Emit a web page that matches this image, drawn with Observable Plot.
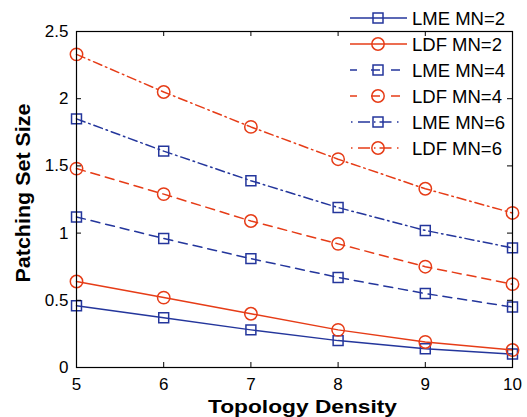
<!DOCTYPE html>
<html>
<head>
<meta charset="utf-8">
<script src="https://cdn.jsdelivr.net/npm/d3@7"></script>
<script src="https://cdn.jsdelivr.net/npm/@observablehq/plot@0.6"></script>
<style>
  html, body { margin: 0; padding: 0; background: #fff; }
  svg { font-family: "Liberation Sans", Arial, sans-serif; }
</style>
</head>
<body>
<div id="chart"></div>
<script>
const density = [5, 6, 7, 8, 9, 10];
const lme2 = [0.46, 0.37, 0.28, 0.20, 0.14, 0.10];
const ldf2 = [0.64, 0.52, 0.40, 0.28, 0.19, 0.13];
const lme4 = [1.12, 0.96, 0.81, 0.67, 0.55, 0.45];
const ldf4 = [1.48, 1.29, 1.09, 0.92, 0.75, 0.62];
const lme6 = [1.85, 1.61, 1.39, 1.19, 1.02, 0.89];
const ldf6 = [2.33, 2.05, 1.79, 1.55, 1.33, 1.15];
const xTicks = [5, 6, 7, 8, 9, 10];
const yTicks = [0, 0.5, 1, 1.5, 2, 2.5];
const yTickLabels = ["0", "0.5", "1", "1.5", "2", "2.5"];
const xLabel = "Topology Density";
const yLabel = "Patching Set Size";

const BLUE = "#24369c";
const RED = "#e63c17";
const series = [
  {name: "LME MN=2", values: lme2, color: BLUE, symbol: "square", style: "solid"},
  {name: "LDF MN=2", values: ldf2, color: RED, symbol: "circle", style: "solid"},
  {name: "LME MN=4", values: lme4, color: BLUE, symbol: "square", style: "dash"},
  {name: "LDF MN=4", values: ldf4, color: RED, symbol: "circle", style: "dash"},
  {name: "LME MN=6", values: lme6, color: BLUE, symbol: "square", style: "dashdot"},
  {name: "LDF MN=6", values: ldf6, color: RED, symbol: "circle", style: "dashdot"}
];
const dashes = {solid: null, dash: "9,6", dashdot: "9,4,1.5,4"};

const W = 527, H = 417;
const mL = 76, mR = 15, mT = 31, mB = 50;
const fw = W - mL - mR, fh = H - mT - mB;

const marks = [];
for (const s of series) {
  const data = density.map((d, i) => ({x: d, y: s.values[i]}));
  marks.push(Plot.line(data, {x: "x", y: "y", stroke: s.color, strokeWidth: 1.5, strokeDasharray: dashes[s.style]}));
  if (s.symbol === "square") {
    marks.push(Plot.dot(data, {x: "x", y: "y", symbol: "square", r: 5.6, stroke: s.color, strokeWidth: 1.5, fill: "none"}));
  } else {
    marks.push(Plot.dot(data, {x: "x", y: "y", symbol: "circle", r: 6.2, stroke: s.color, strokeWidth: 1.5, fill: "none"}));
  }
}

const chart = Plot.plot({
  width: W, height: H,
  marginLeft: mL, marginRight: mR, marginTop: mT, marginBottom: mB,
  style: {fontFamily: "Liberation Sans, Arial, sans-serif", fontSize: "17px", color: "black", background: "white"},
  x: {domain: [5, 10]},
  y: {domain: [0, 2.5]},
  marks: [
    ...marks,
    Plot.frame({stroke: "black", strokeWidth: 1.2}),
    Plot.tickX(xTicks, {x: d => d, insetTop: fh - 5, stroke: "black"}),
    Plot.tickX(xTicks, {x: d => d, insetBottom: fh - 5, stroke: "black"}),
    Plot.tickY(yTicks, {y: d => d, insetRight: fw - 5, stroke: "black"}),
    Plot.tickY(yTicks, {y: d => d, insetLeft: fw - 5, stroke: "black"}),
    Plot.axisX(xTicks, {tickSize: 0, tickPadding: 10, fontSize: 17, label: null}),
    Plot.axisY(yTicks, {tickSize: 0, tickPadding: 8, fontSize: 17, tickFormat: (d, i) => yTickLabels[i], label: null}),
    Plot.text([xLabel], {frameAnchor: "bottom", textAnchor: "middle", lineAnchor: "top", dx: 8, dy: 31.5, fontWeight: "bold", fontSize: 19, fill: "black"}),
    Plot.text([yLabel], {frameAnchor: "left", textAnchor: "middle", lineAnchor: "middle", rotate: -90, dx: -52.5, dy: -6.5, fontWeight: "bold", fontSize: 20, fill: "black"})
  ]
});

const svg = d3.select(chart);
// Stretch axis titles to the reference's measured widths
svg.selectAll("text").each(function () {
  const t = this.textContent;
  if (t === xLabel) d3.select(this).attr("textLength", 189).attr("lengthAdjust", "spacingAndGlyphs");
  if (t === yLabel) d3.select(this).attr("textLength", 179).attr("lengthAdjust", "spacingAndGlyphs");
});

// Legend (top right, no box)
const lg = svg.append("g").attr("aria-label", "legend");
const lx0 = 350, lx1 = 407, lmx = 378, ltx = 412, ly0 = 18, lstep = 26;
series.forEach((s, i) => {
  const y = ly0 + i * lstep;
  if (s.style === "solid") {
    lg.append("line").attr("x1", lx0).attr("x2", lx1).attr("y1", y).attr("y2", y)
      .attr("stroke", s.color).attr("stroke-width", 1.5);
  } else if (s.style === "dash") {
    lg.append("line").attr("x1", lx0).attr("x2", lx1).attr("y1", y).attr("y2", y)
      .attr("stroke", s.color).attr("stroke-width", 1.5)
      .attr("stroke-dasharray", "7,14,9,11,9,14,7");
  } else {
    lg.append("line").attr("x1", lx0 + 1).attr("x2", lx1).attr("y1", y).attr("y2", y)
      .attr("stroke", s.color).attr("stroke-width", 1.5)
      .attr("stroke-dasharray", "1.5,5.5,12,4,1.5,4,12,5.5,1.5,10");
  }
  if (s.symbol === "square") {
    lg.append("rect").attr("x", lmx - 5).attr("y", y - 5).attr("width", 10).attr("height", 10)
      .attr("fill", "none").attr("stroke", s.color).attr("stroke-width", 1.5);
  } else {
    lg.append("circle").attr("cx", lmx).attr("cy", y).attr("r", 6.2)
      .attr("fill", "none").attr("stroke", s.color).attr("stroke-width", 1.5);
  }
  lg.append("text").attr("x", ltx).attr("y", y).attr("dy", "0.36em")
    .attr("text-anchor", "start").attr("font-size", 18.5).attr("fill", "black").text(s.name);
});

document.getElementById("chart").appendChild(chart);
</script>
</body>
</html>
